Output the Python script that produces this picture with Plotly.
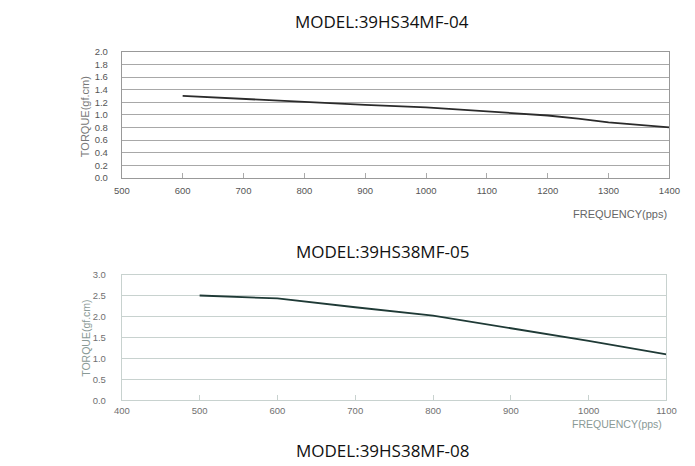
import plotly.graph_objects as go

# Chart 1: MODEL:39HS34MF-04
freq1 = [600, 700, 800, 900, 1000, 1100, 1200, 1250, 1300, 1400]
torque1 = [1.30, 1.25, 1.20, 1.16, 1.12, 1.06, 0.99, 0.94, 0.88, 0.80]
x1_ticks = [500, 600, 700, 800, 900, 1000, 1100, 1200, 1300, 1400]
y1_ticks = [0.0, 0.2, 0.4, 0.6, 0.8, 1.0, 1.2, 1.4, 1.6, 1.8, 2.0]

# Chart 2: MODEL:39HS38MF-05
freq2 = [500, 600, 700, 800, 900, 1000, 1100]
torque2 = [2.50, 2.43, 2.22, 2.02, 1.72, 1.42, 1.10]
x2_ticks = [400, 500, 600, 700, 800, 900, 1000, 1100]
y2_ticks = [0.0, 0.5, 1.0, 1.5, 2.0, 2.5, 3.0]

titles = ["MODEL:39HS34MF-04", "MODEL:39HS38MF-05", "MODEL:39HS38MF-08"]
y_title = "TORQUE(gf.cm)"
x_title = "FREQUENCY(pps)"

W, H = 695, 466
def px(x): return x / W
def py(y): return 1 - y / H

fig = go.Figure()
fig.add_trace(go.Scatter(x=freq1, y=torque1, mode="lines", line=dict(color="#2b2b2b", width=1.8),
                         xaxis="x", yaxis="y", showlegend=False, hoverinfo="skip"))
fig.add_trace(go.Scatter(x=freq2, y=torque2, mode="lines", line=dict(color="#1f3a36", width=1.8),
                         xaxis="x2", yaxis="y2", showlegend=False, hoverinfo="skip"))

tickfont = dict(family="Liberation Sans, Arial", size=9.5, color="#555555")
tickfont2 = dict(family="Liberation Sans, Arial", size=9.5, color="#707070")

fig.update_layout(
    width=W, height=H, margin=dict(l=0, r=0, t=0, b=0),
    paper_bgcolor="white", plot_bgcolor="white",
    xaxis=dict(domain=[px(117), px(680)], range=[500, 1400], tickvals=x1_ticks,
               ticks="inside", ticklen=5, tickcolor="#aaaaaa", showgrid=False,
               showline=True, linecolor="#999999", linewidth=1, mirror=True,
               tickfont=tickfont, ticklabelstandoff=4,
               zeroline=False, anchor="y", fixedrange=True),
    yaxis=dict(domain=[py(176), py(47)], range=[0, 2.0], tickvals=y1_ticks,
               tickformat=".1f", ticks="", showgrid=True, gridcolor="#a8a8a8", gridwidth=1,
               showline=True, linecolor="#999999", linewidth=1, mirror=True,
               tickfont=tickfont, ticklabelstandoff=11,
               zeroline=False, anchor="x", fixedrange=True),
    xaxis2=dict(domain=[px(117), px(677)], range=[400, 1100], tickvals=x2_ticks,
                ticks="inside", ticklen=5, tickcolor="#c8d2cf", showgrid=False,
                showline=True, linecolor="#c8d2cf", linewidth=1, mirror=True,
                tickfont=tickfont2, ticklabelstandoff=1,
                zeroline=False, anchor="y2", fixedrange=True),
    yaxis2=dict(domain=[py(404), py(275)], range=[0, 3.0], tickvals=y2_ticks,
                tickformat=".1f", ticks="", showgrid=True, gridcolor="#c8d2cf", gridwidth=1,
                showline=True, linecolor="#c8d2cf", linewidth=1, mirror=True,
                tickfont=tickfont2, ticklabelstandoff=13,
                zeroline=False, anchor="x2", fixedrange=True),
)

ann = []
title_font = dict(family="Open Sans, Noto Sans", size=17, color="#111111")
for t, yy in zip(titles, [16, 251, 455]):
    ann.append(dict(text=t, x=px(385), y=py(yy), xref="paper", yref="paper",
                    xanchor="center", yanchor="middle", showarrow=False, font=title_font))
ann.append(dict(text=y_title, x=px(80), y=py(113), xref="paper", yref="paper", textangle=-90,
                xanchor="center", yanchor="middle", showarrow=False,
                font=dict(family="Liberation Sans, Arial", size=11, color="#777777")))
ann.append(dict(text=y_title, x=px(80), y=py(340), xref="paper", yref="paper", textangle=-90,
                xanchor="center", yanchor="middle", showarrow=False,
                font=dict(family="Liberation Sans, Arial", size=10.5, color="#8a9a96")))
ann.append(dict(text=x_title, x=px(680), y=py(213), xref="paper", yref="paper",
                xanchor="right", yanchor="middle", showarrow=False,
                font=dict(family="Liberation Sans, Arial", size=11, color="#666666")))
ann.append(dict(text=x_title, x=px(674), y=py(428), xref="paper", yref="paper",
                xanchor="right", yanchor="middle", showarrow=False,
                font=dict(family="Liberation Sans, Arial", size=10.5, color="#8a9a96")))
fig.update_layout(annotations=ann)

fig.write_html("out.html")
